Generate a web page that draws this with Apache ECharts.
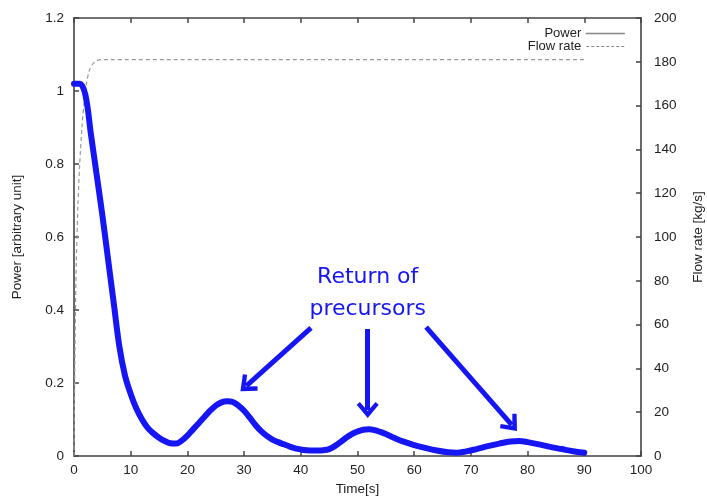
<!DOCTYPE html>
<html>
<head>
<meta charset="utf-8">
<script src="https://cdn.jsdelivr.net/npm/echarts@6/dist/echarts.min.js"></script>
<style>
  html, body { margin: 0; padding: 0; background: #fff; }
  #chart { width: 707px; height: 497px; }
</style>
</head>
<body>
<div id="chart"></div>
<script>
// Normalised reactor power after the pump trip, sampled in seconds
const powerTime = [0, 1, 2, 3, 4, 5, 6, 7, 8, 9, 10, 11, 12, 13, 14, 15, 16, 17, 18, 19,
  20, 21, 22, 23, 24, 25, 26, 27, 28, 29, 30, 31, 32, 33, 34, 35, 36, 37, 38, 39,
  40, 41, 42, 43, 44, 45, 46, 47, 48, 49, 50, 51, 52, 53, 54, 55, 56, 57, 58, 60,
  62, 64, 66, 67.5, 69, 71, 73, 75, 77, 78.5, 80, 82, 84, 86, 88, 90];
const powerValue = [1.02, 1.02, 0.99, 0.88, 0.77, 0.66, 0.54, 0.42, 0.30, 0.22, 0.17, 0.13, 0.10, 0.077, 0.062, 0.05, 0.041, 0.035, 0.034, 0.042,
  0.056, 0.073, 0.09, 0.107, 0.124, 0.138, 0.147, 0.150, 0.148, 0.138, 0.124, 0.105, 0.085, 0.068, 0.055, 0.045, 0.038, 0.032, 0.026, 0.021,
  0.018, 0.016, 0.015, 0.015, 0.016, 0.019, 0.027, 0.038, 0.050, 0.060, 0.067, 0.072, 0.073, 0.071, 0.066, 0.060, 0.053, 0.046, 0.040, 0.030,
  0.022, 0.015, 0.010, 0.009, 0.012, 0.019, 0.027, 0.034, 0.040, 0.041, 0.038, 0.032, 0.025, 0.019, 0.013, 0.009];

// Coolant flow rate in kg/s
const flowTime = [0, 0.2, 0.4, 0.7, 1, 1.4, 1.8, 2.2, 2.7, 3.3, 4, 5, 6, 90];
const flowValue = [0, 55, 88, 115, 133, 150, 162, 170, 176, 179, 180.5, 181, 181, 181];

// Arrows from the note to the three precursor humps: [start, end] in (s, power)
const noteArrows = [
  [[41.8, 0.351], [30.4, 0.192]],
  [[51.8, 0.348], [51.8, 0.126]],
  [[62.1, 0.353], [77.2, 0.085]]
];
const noteAnchor = [51.8, 0.445];
const noteText = 'Return of\nprecursors';

const xTicks = { min: 0, max: 100, interval: 10 };
const yTicks = { min: 0, max: 1.2, interval: 0.2 };
const y2Ticks = { min: 0, max: 200, interval: 20 };

const zip = (a, b) => a.map((v, i) => [v, b[i]]);

const axisFont = { fontFamily: 'Liberation Sans', fontSize: 13.5, color: '#222' };
const axisLine = { show: true, onZero: false, lineStyle: { color: '#444', width: 1.6 } };
const axisTick = { show: true, inside: true, length: 5, lineStyle: { color: '#444', width: 1.5 } };
const noteBlue = '#1616f4';

const chart = echarts.init(document.getElementById('chart'), null, { renderer: 'canvas' });

chart.setOption({
  animation: false,
  backgroundColor: '#fff',
  grid: { left: 74, right: 66, top: 18, bottom: 41, containLabel: false, outerBoundsMode: 'none' },
  legend: {
    orient: 'vertical',
    right: 77,
    top: 22,
    align: 'right',
    itemWidth: 38,
    itemHeight: 10,
    itemGap: 0,
    textStyle: { fontFamily: 'Liberation Sans', fontSize: 13, color: '#222' },
    data: [
      { name: 'Power', lineStyle: { color: '#888', width: 1.5, type: 'solid' }, itemStyle: { opacity: 0 } },
      { name: 'Flow rate', lineStyle: { color: '#888', width: 1, type: [3, 2] }, itemStyle: { opacity: 0 } }
    ]
  },
  xAxis: [{
    type: 'value',
    min: xTicks.min, max: xTicks.max, interval: xTicks.interval,
    name: 'Time[s]', nameLocation: 'middle', nameGap: 25,
    nameTextStyle: axisFont,
    axisLine, axisTick,
    axisLabel: Object.assign({ margin: 7 }, axisFont),
    splitLine: { show: false }
  }, {
    type: 'value', position: 'top',
    min: xTicks.min, max: xTicks.max, interval: xTicks.interval,
    axisLine, axisTick,
    axisLabel: { show: false },
    splitLine: { show: false }
  }],
  yAxis: [{
    type: 'value', position: 'left',
    min: yTicks.min, max: yTicks.max, interval: yTicks.interval,
    name: 'Power [arbitrary unit]', nameLocation: 'middle', nameGap: 50, nameRotate: 90,
    nameTextStyle: axisFont,
    axisLine, axisTick,
    axisLabel: Object.assign({ margin: 10 }, axisFont),
    splitLine: { show: false }
  }, {
    type: 'value', position: 'right',
    min: y2Ticks.min, max: y2Ticks.max, interval: y2Ticks.interval,
    name: 'Flow rate [kg/s]', nameLocation: 'middle', nameGap: 50, nameRotate: 90,
    nameTextStyle: axisFont,
    axisLine, axisTick,
    axisLabel: Object.assign({ margin: 13 }, axisFont),
    splitLine: { show: false }
  }],
  series: [{
    name: 'Power',
    type: 'line',
    xAxisIndex: 0, yAxisIndex: 0,
    data: zip(powerTime, powerValue),
    smooth: 0.35,
    symbol: 'none',
    lineStyle: { color: noteBlue, width: 6, cap: 'round', join: 'round' },
    itemStyle: { color: '#888' },
    z: 3,
    markPoint: {
      silent: true,
      symbol: 'circle', symbolSize: 0,
      label: {
        show: true, position: 'inside',
        formatter: noteText,
        fontFamily: 'DejaVu Sans', fontSize: 22, lineHeight: 32,
        color: noteBlue, align: 'center'
      },
      data: [{ coord: noteAnchor }]
    },
    markLine: {
      silent: true,
      // open chevron head, tip at the top of the path
      symbol: ['none', 'path://M0,14 L12,0 L24,14 L20.5,17 L12,7.5 L3.5,17 Z'],
      symbolSize: [22, 16],
      label: { show: false },
      lineStyle: { color: noteBlue, width: 5, type: 'solid' },
      data: noteArrows.map(([a, b]) => [{ coord: a }, { coord: b }])
    }
  }, {
    name: 'Flow rate',
    type: 'line',
    xAxisIndex: 0, yAxisIndex: 1,
    data: zip(flowTime, flowValue),
    smooth: 0.3,
    symbol: 'none',
    lineStyle: { color: '#999', width: 1.2, type: [4, 3] },
    itemStyle: { color: '#888' },
    z: 2
  }]
});
</script>
</body>
</html>
